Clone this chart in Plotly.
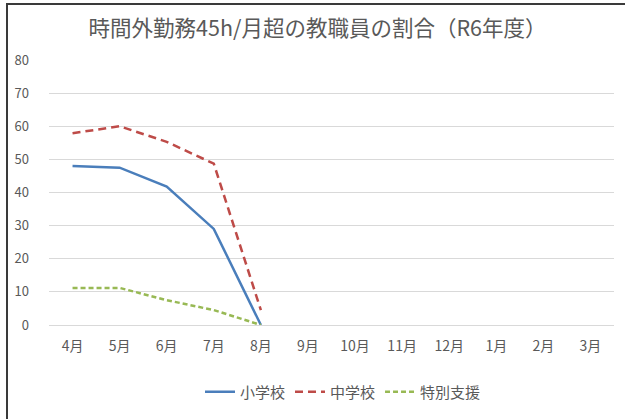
import plotly.graph_objects as go

months = ["4月", "5月", "6月", "7月", "8月", "9月", "10月", "11月", "12月", "1月", "2月", "3月"]
elementary = [48.0, 47.5, 41.8, 29.0, 0.0, None, None, None, None, None, None, None]
junior_high = [57.9, 60.0, 55.3, 48.7, 4.5, None, None, None, None, None, None, None]
special = [11.2, 11.2, 7.5, 4.5, 0.0, None, None, None, None, None, None, None]
y_ticks = [0, 10, 20, 30, 40, 50, 60, 70, 80]

FONT = "Noto Sans CJK JP"
GRAY = "#595959"

fig = go.Figure()
fig.add_trace(go.Scatter(x=months, y=elementary, name="小学校", mode="lines",
                         line=dict(color="#4A7EBB", width=2.5)))
fig.add_trace(go.Scatter(x=months, y=junior_high, name="中学校", mode="lines",
                         line=dict(color="#BE4B48", width=2.5, dash="8px,5px")))
fig.add_trace(go.Scatter(x=months, y=special, name="特別支援", mode="lines",
                         line=dict(color="#98B954", width=2.5, dash="5px,3px")))

L, R, T, B = 49, 11, 60, 94
W, H = 625, 419
pw, ph = W - L - R, H - T - B

def px_to_paper_x(px):
    return (px - L) / pw

def px_to_paper_y(py):
    return (H - B - py) / ph

fig.update_layout(
    width=W, height=H,
    margin=dict(l=L, r=R, t=T, b=B),
    paper_bgcolor="white", plot_bgcolor="white",
    font=dict(family=FONT, color=GRAY, size=13),
    title=dict(text="時間外勤務45h/月超の教職員の割合（R6年度）",
               x=317.5 / W, xanchor="center", xref="container",
               y=1 - 28 / H, yanchor="middle", font=dict(size=21.5, color=GRAY, family=FONT)),
    showlegend=True,
    legend=dict(orientation="h", x=px_to_paper_x(343), xanchor="center",
                y=px_to_paper_y(392), yanchor="middle", yref="paper",
                font=dict(size=15, color=GRAY), itemwidth=30, tracegroupgap=0),
    xaxis=dict(type="category", categoryorder="array", categoryarray=months,
               range=[-0.5, 11.5], showgrid=False, showline=False, ticks="",
               tickfont=dict(size=14, color=GRAY), ticklabelstandoff=11),
    yaxis=dict(range=[0, 80], tickvals=y_ticks, showgrid=True, gridcolor="#D9D9D9",
               gridwidth=1, zeroline=True, zerolinecolor="#D9D9D9", zerolinewidth=1,
               showline=False, ticks="", tickfont=dict(size=13, color=GRAY),
               ticklabelstandoff=19),
)

# outer frame (left and top edges)
x0 = px_to_paper_x(7)
x1 = px_to_paper_x(626)
y0 = px_to_paper_y(420)
y1 = px_to_paper_y(4)
fig.add_shape(type="path", xref="paper", yref="paper",
              path=f"M {x0} {y0} L {x0} {y1} L {x1} {y1}",
              line=dict(color="#3A3A3A", width=2))

fig.write_html("out.html", config={"displayModeBar": False},
               post_script="document.body.style.margin='0';document.body.style.overflow='hidden';")
